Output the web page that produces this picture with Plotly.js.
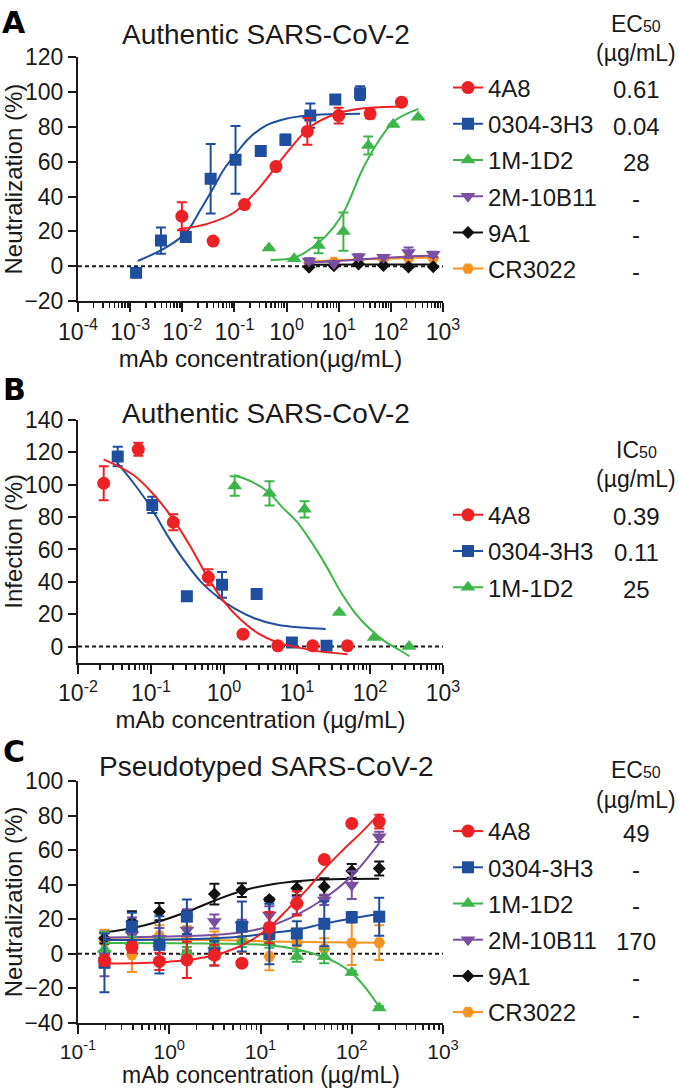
<!DOCTYPE html>
<html><head><meta charset="utf-8">
<script src="https://cdn.plot.ly/plotly-3.0.1.min.js"></script>
<style>html,body{margin:0;padding:0;background:#fff}</style>
</head><body><div id="chart" style="width:679px;height:1089px"></div>
<script>
// ===================== DATA =====================
const seriesNames = ['4A8', '0304-3H3', '1M-1D2', '2M-10B11', '9A1', 'CR3022'];
const ec50A = ['0.61', '0.04', '28', '-', '-', '-'];
const ic50B = ['0.39', '0.11', '25'];
const ec50C = ['49', '-', '-', '170', '-', '-'];
const xTickValsA = [1e-4, 1e-3, 1e-2, 1e-1, 1, 10, 100, 1000];
const xTickTextA = ['10<sup>-4</sup>', '10<sup>-3</sup>', '10<sup>-2</sup>', '10<sup>-1</sup>', '10<sup>0</sup>', '10<sup>1</sup>', '10<sup>2</sup>', '10<sup>3</sup>'];
const xTickValsB = [1e-2, 1e-1, 1, 10, 100, 1000];
const xTickTextB = ['10<sup>-2</sup>', '10<sup>-1</sup>', '10<sup>0</sup>', '10<sup>1</sup>', '10<sup>2</sup>', '10<sup>3</sup>'];
const xTickValsC = [1e-1, 1, 10, 100, 1000];
const xTickTextC = ['10<sup>-1</sup>', '10<sup>0</sup>', '10<sup>1</sup>', '10<sup>2</sup>', '10<sup>3</sup>'];

// ---- Panel A: authentic virus, neutralization (%) ----
const a4A8Conc = [0.0098, 0.039, 0.156, 0.625, 2.5, 10, 40, 160];
const a4A8Val = [28.7, 14.4, 35.4, 57.2, 77.4, 86.5, 87.5, 94.2];
const a4A8Err = [8, 0, 0, 0, 7.7, 4.5, 2.5, 0];
const a4A8FitConc = [0.0085, 0.03, 0.1, 0.3, 1, 3, 10, 30, 160];
const a4A8FitVal = [21.3, 24.3, 31, 45, 65, 80.5, 88, 90.7, 91.8];

const a3H3Conc = [0.0013, 0.0039, 0.0117, 0.035, 0.105, 0.32, 0.95, 2.85, 8.6, 25.7];
const a3H3Val = [-3.8, 14.7, 16.7, 50.2, 61.1, 66.1, 72.6, 86.5, 95.7, 99.4];
const a3H3Err = [0, 7.5, 0, 20, 19.5, 0, 3, 7, 0, 4];
const a3H3FitConc = [0.0014, 0.005, 0.012, 0.021, 0.037, 0.064, 0.107, 0.19, 0.4, 0.97, 1.74, 4, 25.7];
const a3H3FitVal = [3, 10.9, 19.5, 31, 43.5, 56, 64.6, 73.5, 80.8, 84.7, 86, 87, 87.5];

const a1D2Conc = [0.46, 1.4, 4.1, 12.3, 37, 111, 333];
const a1D2Val = [10.5, 4.2, 11.9, 19.9, 69.3, 81.4, 85.6];
const a1D2Err = [0, 0, 4.5, 11, 5.2, 0, 0];
const a1D2FitConc = [0.49, 1.5, 4.2, 8, 13.5, 28, 59, 120, 339];
const a1D2FitVal = [3.6, 5.2, 13.8, 22.5, 33, 55, 72.2, 83.7, 90.4];

const aOtherConc = [2.7, 8.1, 24, 72, 218, 650];
const a10B11Val = [3, 1.5, 5.4, 5.2, 7.8, 6.8];
const a10B11Err = [1.5, 0, 1.5, 0, 3, 1.5];
const a10B11FitConc = [2.7, 10, 30, 100, 300, 650];
const a10B11FitVal = [2.2, 3.0, 4.0, 5.0, 5.8, 6.2];
const a9A1Val = [-0.6, 0.3, 1.3, 0.4, -0.5, -0.3];
const a9A1Err = [0, 0, 0, 0, 0, 0];
const a9A1FitConc = [2.7, 30, 650];
const a9A1FitVal = [0.8, 1.0, 1.0];
const aCRVal = [2, 2.5, 3.5, 4, 4.5, 4.5];
const aCRErr = [0, 0, 0, 0, 0, 0];
const aCRFitConc = [2.7, 30, 650];
const aCRFitVal = [2.8, 4.0, 5.0];

// ---- Panel B: authentic virus, infection (%) ----
const b4A8Conc = [0.0225, 0.067, 0.202, 0.61, 1.82, 5.46, 16.4, 49];
const b4A8Val = [100.9, 121.9, 76.8, 42.8, 7.6, 0.4, 0.4, 0.4];
const b4A8Err = [10.5, 4, 5, 5, 0, 0, 0, 0];
const b4A8FitConc = [0.0224, 0.0575, 0.11, 0.204, 0.347, 0.59, 1.0, 1.7, 2.9, 5.4, 11.4, 20, 49];
const b4A8FitVal = [115.7, 106, 93.7, 78.3, 61.8, 43.2, 27.8, 16.5, 8.3, 2.5, -1.0, -3, -4.8];

const b3H3Conc = [0.035, 0.104, 0.31, 0.94, 2.8, 8.5, 25.4];
const b3H3Val = [117.4, 87.5, 31, 38.1, 32.5, 2.5, 0.4];
const b3H3Err = [6, 5, 2, 8, 1, 0, 0];
const b3H3FitConc = [0.034, 0.058, 0.098, 0.166, 0.28, 0.48, 0.81, 1.37, 2.6, 5.4, 11.4, 24.7];
const b3H3FitVal = [114, 100.9, 86.5, 69, 53.6, 40.1, 30.9, 23.7, 17.5, 13.4, 11.7, 10.9];

const b1D2Conc = [1.4, 4.2, 12.7, 38, 114, 343];
const b1D2Val = [99.2, 94.7, 84.8, 21, 5.6, 0];
const b1D2Err = [6, 7.5, 5, 0, 0, 0];
const b1D2FitConc = [1.38, 2.5, 4, 6.3, 10, 15.8, 25, 40, 63, 100, 158, 250, 347];
const b1D2FitVal = [106, 101.5, 95.7, 86, 77, 64.5, 50, 33.5, 20.5, 10.8, 3.3, -2, -6];

// ---- Panel C: pseudotyped virus, neutralization (%) ----
const cConc = [0.195, 0.39, 0.78, 1.56, 3.125, 6.25, 12.5, 25, 50, 100, 200];
const c4A8Val = [-3.8, 3.8, -4.4, -3.5, -0.8, -5.4, 15.2, 29.2, 54.6, 75.4, 76.5];
const c4A8Err = [3, 3, 5, 10.5, 6, 0, 9, 7, 0, 0, 4];
const c4A8FitConc = [0.195, 0.5, 1, 2, 4, 8, 12.6, 20, 32, 50, 80, 126, 200];
const c4A8FitVal = [-5.6, -5.3, -4.5, -2.8, 0.8, 8, 15.5, 26, 37, 49, 60, 70, 81];

const c3H3Val = [-5.2, 15.8, 5.2, 21.5, 0.3, 15.8, 11.5, 11.8, 17.4, 21.2, 21.5];
const c3H3Err = [17, 8, 16.5, 10, 7, 14.5, 17.5, 7, 13, 3, 11];
const c3H3FitConc = [0.195, 1, 3.2, 6.3, 12.6, 25, 50, 100, 200];
const c3H3FitVal = [8, 8.3, 9, 10, 12, 14, 17.5, 20.5, 23];

const c1D2Val = [2.7, 7, 6, 1, 5, 7, 6.5, -1.5, -1.5, -10.8, -31.3];
const c1D2Err = [10, 3, 3, 3, 3, 3, 3, 3, 4, 1, 1];
const c1D2FitConc = [0.195, 3.2, 12.6, 25, 50, 70, 100, 138, 200];
const c1D2FitVal = [6.3, 6, 5, 2.7, -2, -5.5, -11, -18.9, -30.5];

const c10B11Val = [0, 11, 9, 13.8, 18.7, 16.7, 22.5, 28, 31.2, 39.8, 67.7];
const c10B11Err = [13, 10, 6, 12, 4, 3, 5, 5, 3, 8, 3];
const c10B11FitConc = [0.195, 1, 3.2, 6.3, 12.6, 25, 50, 100, 200];
const c10B11FitVal = [9.5, 10, 11, 12.5, 16, 22.5, 32, 45, 64];

const c9A1Val = [9, 18.7, 24.4, 22, 34.6, 36.9, 31.5, 37.9, 38.8, 48, 49.4];
const c9A1Err = [3, 6, 5, 3, 6, 4, 1, 4, 5, 4, 4];
const c9A1FitConc = [0.195, 0.4, 0.8, 1.6, 3.2, 6.3, 12.6, 25, 50, 100, 200];
const c9A1FitVal = [12.5, 15, 19, 24.5, 31, 36.5, 40, 42, 43, 43.3, 43.5];

const cCRVal = [7, -0.5, 10.5, 9, 8, 8, -1.5, 6.5, 3, 6.3, 6.5];
const cCRErr = [7, 10, 6, 7, 5, 7, 8, 8, 6, 12.7, 10];
const cCRFitConc = [0.195, 3.2, 10, 32, 100, 200];
const cCRFitVal = [8.5, 8, 7.3, 6.8, 6.5, 6.4];

// ===================== STYLE =====================
const FONT = 'Liberation Sans, Arial, Helvetica, sans-serif';
const INK = '#1a1a1a';
const colors = ['#ED2024', '#1F4E9F', '#3DB54A', '#7A4EA0', '#111111', '#F7931E'];
const symbols = ['circle', 'square', 'triangle-up', 'triangle-down', 'diamond', 'hexagon2'];
const msizes = [13, 12, 13, 13, 10, 12];
const W = 679, H = 1089;
const fx = p => p / W;
const fy = p => 1 - p / H;

const traces = [];
function addSeries(idx, axN, conc, val, err, fitConc, fitVal) {
  const xa = axN === 1 ? 'x' : 'x' + axN, ya = axN === 1 ? 'y' : 'y' + axN;
  traces.push({x: fitConc, y: fitVal, xaxis: xa, yaxis: ya, type: 'scatter', mode: 'lines',
    line: {color: colors[idx], width: 2, shape: 'spline', smoothing: 1}, showlegend: false, hoverinfo: 'skip'});
  traces.push({x: conc, y: val, xaxis: xa, yaxis: ya, type: 'scatter', mode: 'markers', name: seriesNames[idx],
    marker: {symbol: symbols[idx], size: msizes[idx], color: colors[idx], line: {width: 0}},
    error_y: {type: 'data', array: err, visible: true, color: colors[idx], thickness: 2, width: 5},
    showlegend: false});
}
function addLegend(idx, axN, legendId) {
  const xa = axN === 1 ? 'x' : 'x' + axN, ya = axN === 1 ? 'y' : 'y' + axN;
  traces.push({x: [null], y: [null], xaxis: xa, yaxis: ya, type: 'scatter', mode: 'lines+markers',
    name: seriesNames[idx], legend: legendId, legendgroup: legendId + idx,
    line: {color: colors[idx], width: 2},
    marker: {symbol: symbols[idx], size: msizes[idx], color: colors[idx], line: {width: 0}}});
}

// Panel A (drawn back to front)
addSeries(5, 1, aOtherConc, aCRVal, aCRErr, aCRFitConc, aCRFitVal);
addSeries(4, 1, aOtherConc, a9A1Val, a9A1Err, a9A1FitConc, a9A1FitVal);
addSeries(3, 1, aOtherConc, a10B11Val, a10B11Err, a10B11FitConc, a10B11FitVal);
addSeries(2, 1, a1D2Conc, a1D2Val, a1D2Err, a1D2FitConc, a1D2FitVal);
addSeries(1, 1, a3H3Conc, a3H3Val, a3H3Err, a3H3FitConc, a3H3FitVal);
addSeries(0, 1, a4A8Conc, a4A8Val, a4A8Err, a4A8FitConc, a4A8FitVal);
// Panel B
addSeries(2, 2, b1D2Conc, b1D2Val, b1D2Err, b1D2FitConc, b1D2FitVal);
addSeries(1, 2, b3H3Conc, b3H3Val, b3H3Err, b3H3FitConc, b3H3FitVal);
addSeries(0, 2, b4A8Conc, b4A8Val, b4A8Err, b4A8FitConc, b4A8FitVal);
// Panel C
addSeries(5, 3, cConc, cCRVal, cCRErr, cCRFitConc, cCRFitVal);
addSeries(4, 3, cConc, c9A1Val, c9A1Err, c9A1FitConc, c9A1FitVal);
addSeries(3, 3, cConc, c10B11Val, c10B11Err, c10B11FitConc, c10B11FitVal);
addSeries(2, 3, cConc, c1D2Val, c1D2Err, c1D2FitConc, c1D2FitVal);
addSeries(1, 3, cConc, c3H3Val, c3H3Err, c3H3FitConc, c3H3FitVal);
addSeries(0, 3, cConc, c4A8Val, c4A8Err, c4A8FitConc, c4A8FitVal);
// legends
for (let i = 0; i < 6; i++) addLegend(i, 1, 'legend');
for (let i = 0; i < 3; i++) addLegend(i, 2, 'legend2');
for (let i = 0; i < 6; i++) addLegend(i, 3, 'legend3');

function minorTicks(lo, hi) {
  const out = [];
  for (let k = lo; k < hi; k++) for (let d = 2; d <= 9; d++) out.push(d * Math.pow(10, k));
  return out;
}
const xDomain = [fx(78), fx(443)];
function xAxis(anchor, range, tv, tt, tickSize, titleText) {
  return {domain: xDomain, anchor: anchor, type: 'log', range: range,
    tickmode: 'array', tickvals: tv, ticktext: tt,
    ticks: 'outside', ticklen: 9, tickwidth: 2, tickcolor: INK,
    minor: {tickmode: 'array', tickvals: minorTicks(range[0], range[1]), ticks: 'outside', ticklen: 5, tickwidth: 1.5, tickcolor: INK, showgrid: false},
    showline: true, linewidth: 2, linecolor: INK, showgrid: false, zeroline: false,
    tickfont: {family: FONT, size: tickSize, color: INK},
    title: {text: titleText, font: {family: FONT, size: 24, color: INK}, standoff: 5}};
}
function yAxis(anchor, dom, range, title) {
  return {domain: dom, anchor: anchor, range: range, tick0: 0, dtick: 20,
    ticks: 'outside', ticklen: 8, tickwidth: 2, tickcolor: INK,
    showline: true, linewidth: 2, linecolor: INK, showgrid: false, zeroline: false,
    tickfont: {family: FONT, size: 23, color: INK},
    title: {text: title, font: {family: FONT, size: 24, color: INK}, standoff: 4}};
}

function legendCfg(topPx) {
  return {x: fx(448), xanchor: 'left', y: fy(topPx), yanchor: 'top', traceorder: 'grouped', tracegroupgap: 2,
    font: {family: FONT, size: 24, color: INK}, bgcolor: 'rgba(0,0,0,0)', borderwidth: 0, itemwidth: 30,
    itemclick: false, itemdoubleclick: false};
}

const ann = [];
function txt(text, xp, yp, size, opts) {
  ann.push(Object.assign({text: text, xref: 'paper', yref: 'paper', x: fx(xp), y: fy(yp), showarrow: false,
    xanchor: 'center', yanchor: 'middle', font: {family: FONT, size: size, color: INK}}, opts || {}));
}
const LETTER = {family: 'DejaVu Sans, Liberation Sans, Arial, sans-serif', size: 30, color: '#000'};
txt('<b>A</b>', 14, 22, 30, {font: LETTER});
txt('<b>B</b>', 14, 389, 30, {font: LETTER});
txt('<b>C</b>', 14, 752, 30, {font: LETTER});
txt('Authentic SARS-CoV-2', 266, 34, 28);
txt('Authentic SARS-CoV-2', 266, 413, 28);
txt('Pseudotyped SARS-CoV-2', 266, 766, 28);
// panel C x-axis title (kept inside the figure bottom edge)
txt('mAb concentration (µg/mL)', 260.5, 1089, 23, {yanchor: 'bottom', borderpad: 0});
const sub = s => "<span style='font-size:16px'>" + s + "</span>";
txt('EC' + sub('50'), 636, 24, 23);
txt('(µg/mL)', 636, 53, 23);
txt('IC' + sub('50'), 636, 450, 23);
txt('(µg/mL)', 636, 479, 23);
txt('EC' + sub('50'), 636, 770, 23);
txt('(µg/mL)', 636, 800, 23);
const rowA0 = 90, rowB0 = 516.7, rowC0 = 833, rowStep = 36.2;
ec50A.forEach((v, i) => txt(v, 636, rowA0 + i * rowStep, 24));
ic50B.forEach((v, i) => txt(v, 636, rowB0 + i * rowStep, 24));
ec50C.forEach((v, i) => txt(v, 636, rowC0 + i * rowStep, 24));

const zeroLine = (xr, yr) => ({type: 'line', xref: xr + ' domain', yref: yr, x0: 0, x1: 1, y0: 0, y1: 0,
  line: {color: INK, width: 2, dash: '4px,3px'}, layer: 'below'});

const layout = {
  width: W, height: H, margin: {l: 0, r: 0, t: 0, b: 0},
  paper_bgcolor: '#fff', plot_bgcolor: '#fff', font: {family: FONT, color: INK},
  showlegend: true,
  xaxis: xAxis('y', [-4, 3], xTickValsA, xTickTextA, 23, 'mAb concentration(µg/mL)'),
  yaxis: yAxis('x', [fy(301), fy(57.3)], [-20, 120], 'Neutralization (%)'),
  xaxis2: xAxis('y2', [-2, 3], xTickValsB, xTickTextB, 23, 'mAb concentration (µg/mL)'),
  yaxis2: yAxis('x2', [fy(662.7), fy(420)], [-10, 140], 'Infection (%)'),
  xaxis3: xAxis('y3', [-1, 3], xTickValsC, xTickTextC, 21, ''),
  yaxis3: yAxis('x3', [fy(1023), fy(781)], [-40, 100], 'Neutralization (%)'),
  legend: legendCfg(rowA0 - 24.5),
  legend2: legendCfg(rowB0 - 24),
  legend3: legendCfg(rowC0 - 24),
  annotations: ann,
  shapes: [zeroLine('x', 'y'), zeroLine('x2', 'y2'), zeroLine('x3', 'y3')]
};
Plotly.newPlot('chart', traces, layout, {staticPlot: true, displayModeBar: false});
</script></body></html>
